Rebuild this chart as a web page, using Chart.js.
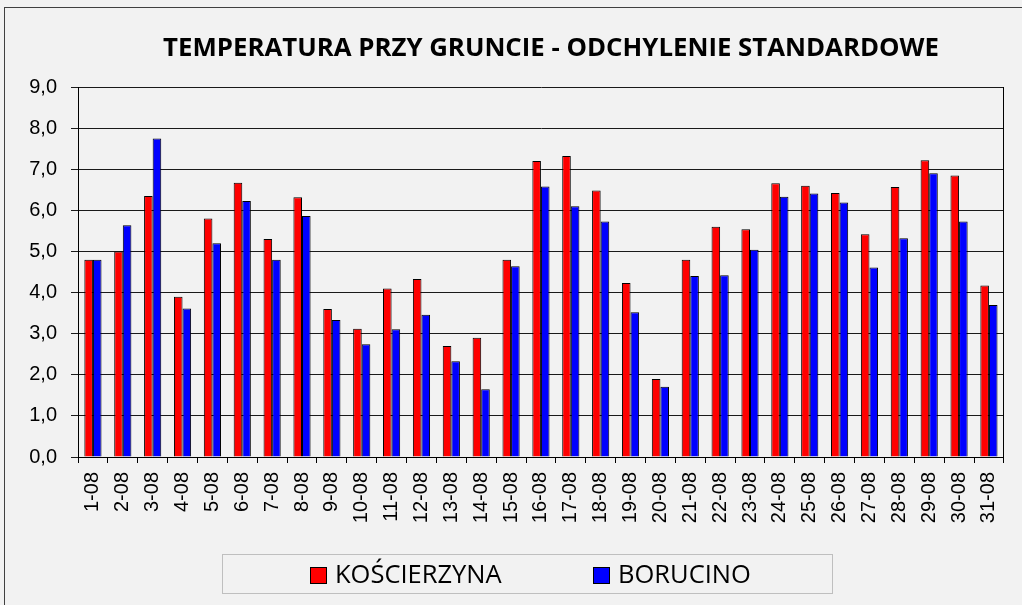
<!DOCTYPE html>
<html>
<head>
<meta charset="utf-8">
<script src="https://cdn.jsdelivr.net/npm/chart.js@4.4.1/dist/chart.umd.min.js"></script>
<style>
  html, body { margin: 0; padding: 0; background: #f2f2f2; }
  canvas { display: block; }
</style>
</head>
<body>
<canvas id="chart" width="1022" height="605"></canvas>
<script>
// Daily categories (day-month)
const days = ['1-08','2-08','3-08','4-08','5-08','6-08','7-08','8-08','9-08','10-08',
  '11-08','12-08','13-08','14-08','15-08','16-08','17-08','18-08','19-08','20-08',
  '21-08','22-08','23-08','24-08','25-08','26-08','27-08','28-08','29-08','30-08','31-08'];

// Standard deviation of ground temperature per station
const koscierzyna = [4.80, 5.00, 6.35, 3.90, 5.80, 6.67, 5.30, 6.32, 3.60, 3.12,
  4.10, 4.33, 2.70, 2.90, 4.80, 7.20, 7.32, 6.48, 4.23, 1.90,
  4.80, 5.60, 5.54, 6.66, 6.60, 6.42, 5.42, 6.57, 7.22, 6.85, 4.17];
const borucino = [4.80, 5.64, 7.75, 3.61, 5.20, 6.23, 4.80, 5.86, 3.33, 2.74,
  3.11, 3.46, 2.33, 1.65, 4.64, 6.58, 6.10, 5.73, 3.52, 1.71,
  4.40, 4.42, 5.04, 6.33, 6.41, 6.19, 4.61, 5.32, 6.90, 5.73, 3.70];

const yTickLabels = ['0,0','1,0','2,0','3,0','4,0','5,0','6,0','7,0','8,0','9,0'];
const seriesNames = ['KOŚCIERZYNA', 'BORUCINO'];
const seriesColors = ['#ff0000', '#0000ff'];
const chartTitle = 'TEMPERATURA PRZY GRUNCIE - ODCHYLENIE STANDARDOWE';

// Background, outer frame, title and the right edge of the plot area
const framePlugin = {
  id: 'frame',
  beforeDraw(chart) {
    const ctx = chart.ctx;
    ctx.save();
    ctx.fillStyle = '#f2f2f2';
    ctx.fillRect(0, 0, chart.width, chart.height);
    ctx.strokeStyle = '#404040';
    ctx.lineWidth = 1;
    ctx.strokeRect(4.5, 7.5, chart.width + 20, chart.height + 20);
    ctx.fillStyle = '#000';
    ctx.font = 'bold 25.8px "Open Sans"';
    ctx.textAlign = 'center';
    ctx.textBaseline = 'middle';
    ctx.fillText(chartTitle, 551, 49);
    ctx.restore();
  },
  afterDraw(chart) {
    const ctx = chart.ctx;
    const a = chart.chartArea;
    ctx.save();
    ctx.strokeStyle = '#000';
    ctx.lineWidth = 1;
    ctx.beginPath();
    ctx.moveTo(Math.round(a.right) - 0.5, a.top);
    ctx.lineTo(Math.round(a.right) - 0.5, a.bottom);
    ctx.stroke();
    ctx.restore();
  }
};

// Boxed legend below the axis
const boxedLegend = {
  id: 'boxedLegend',
  afterDraw(chart) {
    const ctx = chart.ctx;
    ctx.save();
    ctx.strokeStyle = '#bfbfbf';
    ctx.lineWidth = 1;
    ctx.strokeRect(222.5, 554.5, 610, 39);
    const starts = [310, 593];
    ctx.font = '25.5px "Open Sans"';
    ctx.textBaseline = 'middle';
    ctx.textAlign = 'left';
    chart.data.datasets.forEach((ds, i) => {
      const x = starts[i];
      ctx.fillStyle = ds.backgroundColor;
      ctx.fillRect(x, 567, 17, 17);
      ctx.strokeStyle = '#000';
      ctx.strokeRect(x + 0.5, 567.5, 16, 16);
      ctx.fillStyle = '#000';
      ctx.fillText(ds.label, x + 25, 576);
    });
    ctx.restore();
  }
};

new Chart(document.getElementById('chart'), {
  type: 'bar',
  data: {
    labels: days,
    datasets: [
      { label: seriesNames[0], data: koscierzyna, backgroundColor: seriesColors[0],
        borderColor: '#000', borderWidth: 1, borderSkipped: 'bottom' },
      { label: seriesNames[1], data: borucino, backgroundColor: seriesColors[1],
        borderColor: '#000', borderWidth: 1, borderSkipped: 'bottom' }
    ]
  },
  options: {
    responsive: false,
    animation: false,
    devicePixelRatio: 1,
    layout: { padding: { top: 87, right: 4, bottom: 48, left: 0 } },
    datasets: { bar: { categoryPercentage: 0.575, barPercentage: 1.0 } },
    plugins: {
      legend: { display: false },
      tooltip: { enabled: false },
      title: { display: false }
    },
    scales: {
      x: {
        afterFit(scale) { scale.height = 100; },
        grid: { offset: true, drawOnChartArea: false, drawTicks: true, tickLength: 6, color: '#000' },
        border: { color: '#000', width: 1 },
        ticks: {
          autoSkip: false, maxRotation: 90, minRotation: 90, padding: 9,
          color: '#000', font: { family: '"Liberation Sans"', size: 20 }
        }
      },
      y: {
        min: 0, max: 9,
        afterFit(scale) { scale.width = 78; },
        grid: { color: '#1a1a1a', lineWidth: 1, drawTicks: true, tickLength: 7 },
        border: { color: '#000', width: 1 },
        ticks: {
          stepSize: 1, padding: 14, color: '#000',
          font: { family: '"Liberation Sans"', size: 20 },
          callback: (value, index) => yTickLabels[index]
        }
      }
    }
  },
  plugins: [framePlugin, boxedLegend]
});
</script>
</body>
</html>
